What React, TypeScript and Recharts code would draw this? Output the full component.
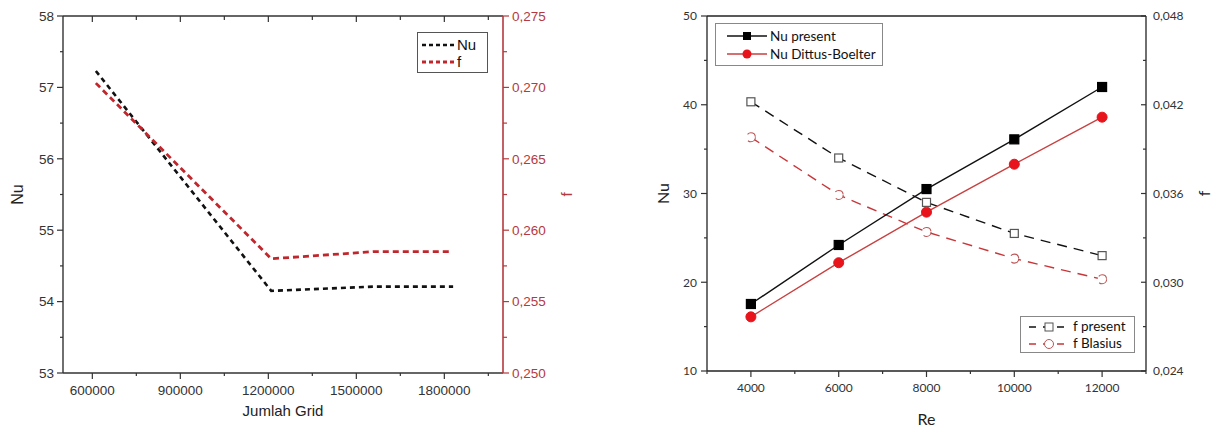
import React from 'react';
import { LineChart, Line, XAxis, YAxis } from 'recharts';

// grid independence (left)
const gridNuX = [612000, 1210000, 1560000, 1830000];
const gridNu = [57.23, 54.15, 54.21, 54.21];
const gridFX = [612000, 1210000, 1560000, 1820000];
const gridF = [0.2703, 0.258, 0.2585, 0.2585];

const gridXTicks = [600000, 750000, 900000, 1050000, 1200000, 1350000, 1500000, 1650000, 1800000, 1950000];
const gridXMajor = [600000, 900000, 1200000, 1500000, 1800000];
const gridNuTicks = [53, 53.5, 54, 54.5, 55, 55.5, 56, 56.5, 57, 57.5, 58];
const gridNuMajor = [53, 54, 55, 56, 57, 58];
const gridFTicks = [0.25, 0.2525, 0.255, 0.2575, 0.26, 0.2625, 0.265, 0.2675, 0.27, 0.2725, 0.275];
const gridFMajor = [0.25, 0.255, 0.26, 0.265, 0.27, 0.275];

// validation (right)
const re = [4000, 6000, 8000, 10000, 12000];
const nuPresent = [17.55, 24.2, 30.5, 36.1, 42.0];
const nuDittus = [16.1, 22.2, 27.9, 33.3, 38.6];
const fPresent = [0.0422, 0.0384, 0.0354, 0.0333, 0.0318];
const fBlasius = [0.0398, 0.0359, 0.0334, 0.0316, 0.0302];

const reTicks = [3000, 4000, 5000, 6000, 7000, 8000, 9000, 10000, 11000, 12000, 13000];
const reMajor = [4000, 6000, 8000, 10000, 12000];
const nuTicks = [10, 15, 20, 25, 30, 35, 40, 45, 50];
const nuMajor = [10, 20, 30, 40, 50];
const fTicks = [0.024, 0.027, 0.03, 0.033, 0.036, 0.039, 0.042, 0.045, 0.048];
const fMajor = [0.024, 0.03, 0.036, 0.042, 0.048];

const nuLine = gridNuX.map((x, i) => ({ x, v: gridNu[i] }));
const fLine = gridFX.map((x, i) => ({ x, v: gridF[i] }));
const validation = re.map((r, i) => ({
  re: r,
  nuPresent: nuPresent[i],
  nuDittus: nuDittus[i],
  fPresent: fPresent[i],
  fBlasius: fBlasius[i],
}));

const ARIAL = '"Liberation Sans", Arial, sans-serif';
const CALIBRI = 'Lato, "Open Sans", sans-serif';
const RED_AXIS = '#b5393e';

type TickOpts = {
  side: 'left' | 'right' | 'bottom' | 'top';
  majors: number[];
  fmt?: (v: number) => string;
  color: string;
  font: string;
  size: number;
  major: number;
  minor: number;
  gap: number;
  inward?: boolean;
  noLabel?: boolean;
};

// draws its own tick line (short for minors) and the label for majors
function makeTick(o: TickOpts) {
  return (props: any) => {
    const { x, y, payload } = props;
    const v = payload.value;
    const isMajor = o.majors.includes(v);
    const len = isMajor ? o.major : o.minor;
    const d = o.inward ? -1 : 1;
    const label = o.fmt ? o.fmt(v) : String(v);
    const common = { fill: o.color, fontFamily: o.font, fontSize: o.size };
    let ln: React.ReactNode = null;
    let tx: React.ReactNode = null;
    if (o.side === 'bottom') {
      ln = <line x1={x} x2={x} y1={y} y2={y + d * len} stroke={o.color} strokeWidth={1.2} />;
      if (isMajor && !o.noLabel)
        tx = <text x={x} y={y + o.gap} dy="0.71em" textAnchor="middle" {...common}>{label}</text>;
    } else if (o.side === 'top') {
      ln = <line x1={x} x2={x} y1={y} y2={y - d * len} stroke={o.color} strokeWidth={1.2} />;
    } else if (o.side === 'left') {
      ln = <line x1={x} x2={x - d * len} y1={y} y2={y} stroke={o.color} strokeWidth={1.2} />;
      if (isMajor && !o.noLabel)
        tx = <text x={x - o.gap} y={y} dy="0.355em" textAnchor="end" {...common}>{label}</text>;
    } else {
      ln = <line x1={x} x2={x + d * len} y1={y} y2={y} stroke={o.color} strokeWidth={1.2} />;
      if (isMajor && !o.noLabel)
        tx = <text x={x + o.gap} y={y} dy="0.355em" textAnchor="start" {...common}>{label}</text>;
    }
    return (
      <g>
        {ln}
        {tx}
      </g>
    );
  };
}

const comma = (digits: number) => (v: number) => v.toFixed(digits).replace('.', ',');

function DashIcon({ color, dash, width }: { color: string; dash: string; width: number }) {
  return (
    <svg width={34} height={10} style={{ display: 'block' }}>
      <line x1={0} x2={34} y1={5} y2={5} stroke={color} strokeWidth={width} strokeDasharray={dash} />
    </svg>
  );
}

function GridChart() {
  return (
    <div style={{ position: 'absolute', left: 0, top: 0, width: 600, height: 430 }}>
      <LineChart width={600} height={430} margin={{ top: 15, right: 17, bottom: 0, left: 0 }}>
        <XAxis
          xAxisId="top"
          orientation="top"
          type="number"
          dataKey="x"
          domain={[500000, 2000000]}
          allowDataOverflow
          ticks={gridXTicks}
          interval={0}
          height={1}
          tickSize={0}
          tickMargin={0}
          tickLine={false}
          axisLine={{ stroke: '#333', strokeWidth: 1.4 }}
          tick={makeTick({ side: 'top', majors: gridXMajor, color: '#333', font: ARIAL, size: 13, major: 6, minor: 4, gap: 0, inward: true, noLabel: true })}
        />
        <XAxis
          type="number"
          dataKey="x"
          domain={[500000, 2000000]}
          allowDataOverflow
          ticks={gridXTicks}
          interval={0}
          height={57}
          tickSize={0}
          tickMargin={0}
          tickLine={false}
          axisLine={{ stroke: '#333', strokeWidth: 1.4 }}
          tick={makeTick({ side: 'bottom', majors: gridXMajor, color: '#333', font: ARIAL, size: 13.5, major: 6, minor: 3, gap: 12 })}
          label={{ value: 'Jumlah Grid', position: 'insideBottom', offset: 14, fill: '#222', fontFamily: ARIAL, fontSize: 15 }}
        />
        <YAxis
          yAxisId="nu"
          type="number"
          domain={[53, 58]}
          allowDataOverflow
          ticks={gridNuTicks}
          interval={0}
          width={63}
          tickSize={0}
          tickMargin={0}
          tickLine={false}
          axisLine={{ stroke: '#333', strokeWidth: 1.4 }}
          tick={makeTick({ side: 'left', majors: gridNuMajor, color: '#333', font: ARIAL, size: 13.5, major: 6, minor: 3, gap: 9 })}
          label={{ value: 'Nu', angle: -90, position: 'insideLeft', offset: 17, fill: '#222', fontFamily: ARIAL, fontSize: 16, style: { textAnchor: 'middle' } }}
        />
        <YAxis
          yAxisId="f"
          orientation="right"
          type="number"
          domain={[0.25, 0.275]}
          allowDataOverflow
          ticks={gridFTicks}
          interval={0}
          width={80}
          tickSize={0}
          tickMargin={0}
          tickLine={false}
          axisLine={{ stroke: RED_AXIS, strokeWidth: 1.6 }}
          tick={makeTick({ side: 'right', majors: gridFMajor, color: RED_AXIS, font: ARIAL, size: 13.5, major: 6, minor: 4, gap: 9, fmt: comma(3) })}
          label={{ value: 'f', angle: -90, position: 'insideRight', offset: 16, fill: RED_AXIS, fontFamily: ARIAL, fontSize: 15, style: { textAnchor: 'middle' } }}
        />
        <Line
          data={nuLine}
          dataKey="v"
          yAxisId="nu"
          stroke="#111"
          strokeWidth={2.6}
          strokeDasharray="5 4"
          dot={false}
          activeDot={false}
          isAnimationActive={false}
        />
        <Line
          data={fLine}
          dataKey="v"
          yAxisId="f"
          stroke="#c0272d"
          strokeWidth={2.8}
          strokeDasharray="6 4"
          dot={false}
          activeDot={false}
          isAnimationActive={false}
        />
      </LineChart>
      <div
        style={{
          position: 'absolute',
          left: 417,
          top: 32,
          width: 71,
          height: 41,
          border: '1px solid #555',
          boxSizing: 'border-box',
          background: '#fff',
          fontFamily: ARIAL,
          fontSize: 15,
          color: '#111',
          padding: '3px 0 0 4px',
          lineHeight: '17px',
        }}
      >
        <div style={{ display: 'flex', alignItems: 'center', gap: 1 }}>
          <DashIcon color="#111" dash="4 3" width={2.4} />
          <span>Nu</span>
        </div>
        <div style={{ display: 'flex', alignItems: 'center', gap: 1 }}>
          <DashIcon color="#c0272d" dash="4 3" width={2.8} />
          <span>f</span>
        </div>
      </div>
    </div>
  );
}

const square = (fill: string, stroke: string, s: number) => (p: any) => {
  if (p.cx == null || p.cy == null) return <g key={p.index} />;
  return <rect key={p.index} x={p.cx - s / 2} y={p.cy - s / 2} width={s} height={s} fill={fill} stroke={stroke} strokeWidth={1.2} />;
};

function LegendIcon({ color, dash, marker }: { color: string; dash?: string; marker: React.ReactNode }) {
  return (
    <svg width={40} height={14} style={{ display: 'block' }}>
      <line x1={0} x2={40} y1={7} y2={7} stroke={color} strokeWidth={1.4} strokeDasharray={dash} />
      {marker}
    </svg>
  );
}

function ValidationChart() {
  return (
    <div style={{ position: 'absolute', left: 610, top: 0, width: 606, height: 430 }}>
      <LineChart width={606} height={430} data={validation} margin={{ top: 15, right: 0, bottom: 0, left: 0 }}>
        <XAxis
          xAxisId="top"
          orientation="top"
          type="number"
          dataKey="re"
          domain={[3000, 13000]}
          height={1}
          tick={false}
          tickLine={false}
          axisLine={{ stroke: '#222', strokeWidth: 1.3 }}
        />
        <XAxis
          type="number"
          dataKey="re"
          domain={[3000, 13000]}
          allowDataOverflow
          ticks={reTicks}
          interval={0}
          height={59}
          tickSize={0}
          tickMargin={0}
          tickLine={false}
          axisLine={{ stroke: '#222', strokeWidth: 1.3 }}
          tick={makeTick({ side: 'bottom', majors: reMajor, color: '#333', font: CALIBRI, size: 12, major: 6, minor: 3, gap: 12 })}
          label={{ value: 'Re', position: 'insideBottom', offset: 5, fill: '#222', fontFamily: CALIBRI, fontSize: 16 }}
        />
        <YAxis
          yAxisId="nu"
          type="number"
          domain={[10, 50]}
          allowDataOverflow
          ticks={nuTicks}
          interval={0}
          width={97}
          tickSize={0}
          tickMargin={0}
          tickLine={false}
          axisLine={{ stroke: '#222', strokeWidth: 1.3 }}
          tick={makeTick({ side: 'left', majors: nuMajor, color: '#333', font: CALIBRI, size: 12, major: 6, minor: 3, gap: 10 })}
          label={{ value: 'Nu', angle: -90, position: 'insideLeft', offset: 53, fill: '#222', fontFamily: CALIBRI, fontSize: 16, style: { textAnchor: 'middle' } }}
        />
        <YAxis
          yAxisId="f"
          orientation="right"
          type="number"
          domain={[0.024, 0.048]}
          allowDataOverflow
          ticks={fTicks}
          interval={0}
          width={70}
          tickSize={0}
          tickMargin={0}
          tickLine={false}
          axisLine={{ stroke: '#222', strokeWidth: 1.3 }}
          tick={makeTick({ side: 'right', majors: fMajor, color: '#333', font: CALIBRI, size: 12, major: 5, minor: 3, gap: 7, inward: true, fmt: comma(3) })}
          label={{ value: 'f', angle: -90, position: 'insideRight', offset: 12, fill: '#222', fontFamily: CALIBRI, fontSize: 16, style: { textAnchor: 'middle' } }}
        />
        <Line
          dataKey="fPresent"
          yAxisId="f"
          stroke="#111"
          strokeWidth={1.4}
          strokeDasharray="10 7"
          dot={square('#fff', '#555', 8)}
          activeDot={false}
          isAnimationActive={false}
        />
        <Line
          dataKey="fBlasius"
          yAxisId="f"
          stroke="#c8363a"
          strokeWidth={1.4}
          strokeDasharray="10 7"
          dot={{ r: 4.5, fill: '#fff', stroke: '#b55', strokeWidth: 1.1 }}
          activeDot={false}
          isAnimationActive={false}
        />
        <Line
          dataKey="nuPresent"
          yAxisId="nu"
          stroke="#111"
          strokeWidth={1.4}
          dot={square('#000', '#000', 9)}
          activeDot={false}
          isAnimationActive={false}
        />
        <Line
          dataKey="nuDittus"
          yAxisId="nu"
          stroke="#c94040"
          strokeWidth={1.4}
          dot={{ r: 5, fill: '#e8141b', stroke: '#e8141b', strokeWidth: 1 }}
          activeDot={false}
          isAnimationActive={false}
        />
      </LineChart>
      <div
        style={{
          position: 'absolute',
          left: 105,
          top: 23,
          width: 168,
          height: 43,
          border: '1px solid #888',
          boxSizing: 'border-box',
          background: '#fff',
          fontFamily: CALIBRI,
          fontSize: 13.5,
          color: '#111',
          padding: '3px 0 0 11px',
          lineHeight: '18px',
        }}
      >
        <div style={{ display: 'flex', alignItems: 'center', gap: 3 }}>
          <LegendIcon color="#111" marker={<rect x={16} y={3} width={8} height={8} fill="#000" />} />
          <span>Nu present</span>
        </div>
        <div style={{ display: 'flex', alignItems: 'center', gap: 3 }}>
          <LegendIcon color="#c94040" marker={<circle cx={20} cy={7} r={4.5} fill="#e8141b" />} />
          <span>Nu Dittus-Boelter</span>
        </div>
      </div>
      <div
        style={{
          position: 'absolute',
          left: 410,
          top: 316,
          width: 115,
          height: 37,
          border: '1px solid #888',
          boxSizing: 'border-box',
          background: '#fff',
          fontFamily: CALIBRI,
          fontSize: 13.5,
          color: '#111',
          padding: '1px 0 0 8px',
          lineHeight: '17px',
        }}
      >
        <div style={{ display: 'flex', alignItems: 'center', gap: 4 }}>
          <LegendIcon color="#111" dash="7 7" marker={<rect x={16} y={3} width={8} height={8} fill="#fff" stroke="#555" />} />
          <span>f present</span>
        </div>
        <div style={{ display: 'flex', alignItems: 'center', gap: 4 }}>
          <LegendIcon color="#c8363a" dash="7 7" marker={<circle cx={20} cy={7} r={4.5} fill="#fff" stroke="#b55" />} />
          <span>f Blasius</span>
        </div>
      </div>
    </div>
  );
}

export default function App() {
  return (
    <div style={{ position: 'absolute', left: 0, top: 0, width: 1216, height: 430, background: '#fff' }}>
      <GridChart />
      <ValidationChart />
    </div>
  );
}
